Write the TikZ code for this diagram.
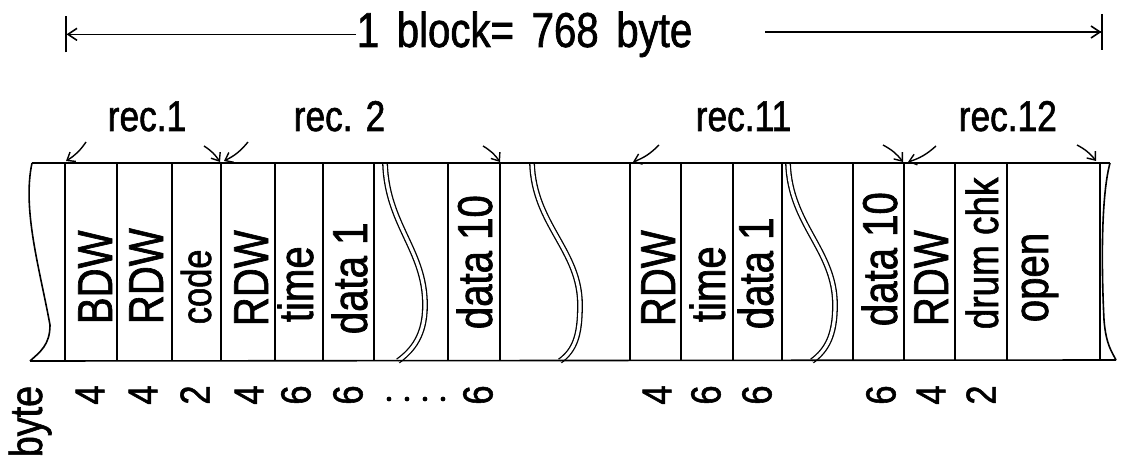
\documentclass[tikz,border=0pt]{standalone}
\usepackage{fontspec}
\setmainfont{Liberation Sans}[FakeStretch=0.82,FakeBold=1.3]
\usetikzlibrary{arrows.meta}
\newcommand{\setfs}[1]{\fontsize{#1}{#1}\selectfont}
\begin{document}
\begin{tikzpicture}[x=1pt,y=-1pt,line width=1.6pt,
  colname/.style={rotate=90,anchor=base west,inner sep=0pt,font=\setfs{49}},
  bytenum/.style={rotate=90,anchor=center,inner sep=0pt,font=\setfs{42}},
  reclabel/.style={anchor=base west,inner sep=0pt,font=\setfs{43}},
  wavy/.style={line width=1.3pt,double,double distance=3.2pt},
  recarrow/.style={line width=1.4pt,-{Straight Barb[length=7pt,width=11pt]}},
  dimarrow/.style={line width=1.6pt,-{Straight Barb[length=9pt,width=12pt]Bar[width=36pt]}}]
\useasboundingbox (0,0) rectangle (1124,462);

% header dimension
\node[anchor=base west,inner sep=0pt,font=\setfs{49}] (hdr) at (356,47) {\spaceskip=0.36em 1 block= 768 byte};
\coordinate (hl) at (65,33);
\coordinate (hm) at (765,32);
\coordinate (hr) at (1103,32);
\draw[dimarrow] (hdr.west) -- (hdr.west -| hl);
\draw[dimarrow] (hm) -- (hr);

% record labels
\node[reclabel] (r1) at (107,131) {rec.1};
\node[reclabel] (r2) at (293,131) {rec. 2};
\node[reclabel] (r11) at (695,131) {rec.11};
\node[reclabel] (r12) at (958,131) {rec.12};

% waves (double lines)
\foreach \a/\b/\c in {385/425/398, 532/580/560, 788/835/812}
  \draw[wavy] (\a,163) .. controls (\a+2,225) and (\b,250) .. (\b,305)
        .. controls (\b,335) and (\c+15,350) .. (\c,361);

% vertical separators
\foreach \x in {65,117,172,221,275,323,374,448,500,630,681,733,782,853,904,955,1007,1100}
  \draw (\x,163) -- (\x,360);

% left and right torn edges
\draw (32,163) .. controls (22,210) and (40,270) .. (50,325)
      .. controls (50,345) and (40,352) .. (30,361);
\draw (1110,163) .. controls (1100,200) and (1102,280) .. (1104,320)
      .. controls (1106,345) and (1112,352) .. (1116,360);

% top and bottom lines
\draw (32,163) -- (1110,163);
\draw (30,361) -- (1116,360);

% record boundary arrows
\coordinate (a1s) at (86,142);  \coordinate (a1e) at (66,161);
\coordinate (b1s) at (204,146); \coordinate (b1e) at (220,162);
\coordinate (a2s) at (248,142); \coordinate (a2e) at (224,161);
\coordinate (b2s) at (483,146); \coordinate (b2e) at (500,162);
\coordinate (a11s) at (659,145); \coordinate (a11e) at (633,162);
\coordinate (b11s) at (883,145); \coordinate (b11e) at (903,162);
\coordinate (a12s) at (936,146); \coordinate (a12e) at (908,162);
\coordinate (b12s) at (1077,145); \coordinate (b12e) at (1096,161);
\draw[recarrow] (a1s) to[bend left=12] (a1e);
\draw[recarrow] (b1s) to[bend left=12] (b1e);
\draw[recarrow] (a2s) to[bend left=12] (a2e);
\draw[recarrow] (b2s) to[bend left=12] (b2e);
\draw[recarrow] (a11s) to[bend left=12] (a11e);
\draw[recarrow] (b11s) to[bend left=12] (b11e);
\draw[recarrow] (a12s) to[bend left=12] (a12e);
\draw[recarrow] (b12s) to[bend left=12] (b12e);

% field names
\node[colname] (f1) at (112,325) {BDW};
\node[colname] (f2) at (163,325) {RDW};
\node[colname,font=\setfs{42}] (f3) at (211,325) {code};
\node[colname] (f4) at (268,327) {RDW};
\node[colname] (f5) at (313,323) {time};
\node[colname] (f6) at (367,335) {data 1};
\node[colname] (f7) at (492,330) {data 10};
\node[colname] (f8) at (675,327) {RDW};
\node[colname] (f9) at (725,323) {time};
\node[colname] (f10) at (773,330) {data 1};
\node[colname] (f11) at (897,327) {data 10};
\node[colname] (f12) at (948,327) {RDW};
\node[colname,font=\setfs{45}] (f13) at (998,330) {drum chk};
\node[colname] (f14) at (1048,323) {open};

% byte counts
\node[colname,font=\setfs{46}] (byte) at (42,458) {byte};
\node[bytenum] (n1) at (90,395) {4};
\node[bytenum] (n2) at (143,395) {4};
\node[bytenum] (n3) at (195,395) {2};
\node[bytenum] (n4) at (249,395) {4};
\node[bytenum] (n5) at (296,395) {6};
\node[bytenum] (n6) at (348,395) {6};
\node[bytenum] (n7) at (478,395) {6};
\node[bytenum] (n8) at (657,395) {4};
\node[bytenum] (n9) at (706,395) {6};
\node[bytenum] (n10) at (757,395) {6};
\node[bytenum] (n11) at (881,395) {6};
\node[bytenum] (n12) at (931,395) {4};
\node[bytenum] (n13) at (981,395) {2};
\foreach \x in {389,407,425,443}
  \fill (\x,399) circle (2.4);
\end{tikzpicture}
\end{document}
